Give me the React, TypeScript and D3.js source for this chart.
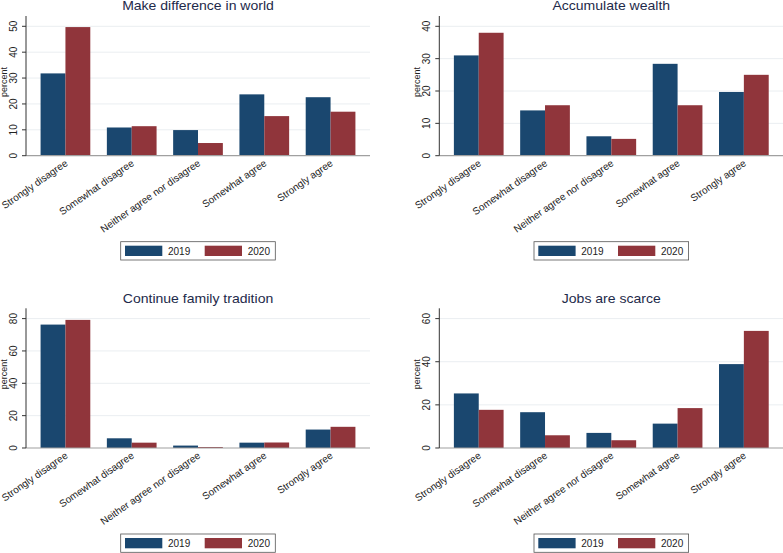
import * as d3 from "d3"
import { useEffect, useRef } from "react"

const categories = [
  "Strongly disagree",
  "Somewhat disagree",
  "Neither agree nor disagree",
  "Somewhat agree",
  "Strongly agree"
]
const years = ["2019", "2020"]

const world2019 = [31.8, 10.9, 9.9, 23.7, 22.6]
const world2020 = [49.7, 11.4, 4.9, 15.3, 17.0]
const wealth2019 = [31.0, 14.0, 6.0, 28.4, 19.7]
const wealth2020 = [38.0, 15.6, 5.2, 15.6, 25.0]
const tradition2019 = [76.3, 6.0, 1.5, 3.3, 11.4]
const tradition2020 = [79.2, 3.3, 0.6, 3.4, 13.1]
const jobs2019 = [25.3, 16.6, 7.0, 11.3, 38.9]
const jobs2020 = [17.7, 5.9, 3.6, 18.5, 54.3]

const worldTicks = [0, 10, 20, 30, 40, 50]
const wealthTicks = [0, 10, 20, 30, 40]
const traditionTicks = [0, 20, 40, 60, 80]
const jobsTicks = [0, 20, 40, 60]

const panels = [
  { title: "Make difference in world", a: world2019, b: world2020, ticks: worldTicks, col: 0, row: 0 },
  { title: "Accumulate wealth", a: wealth2019, b: wealth2020, ticks: wealthTicks, col: 1, row: 0 },
  { title: "Continue family tradition", a: tradition2019, b: tradition2020, ticks: traditionTicks, col: 0, row: 1 },
  { title: "Jobs are scarce", a: jobs2019, b: jobs2020, ticks: jobsTicks, col: 1, row: 1 }
]

const W = 783
const H = 553
const FONT = "'Liberation Sans', Arial, Helvetica, sans-serif"
const NAVY = "#1a476f"
const MAROON = "#90353b"

const App = () => {
  const svgRef = useRef<SVGSVGElement | null>(null)

  useEffect(() => {
    if (!svgRef.current) return
    const root = d3.select(svgRef.current)
    root.selectAll("*").remove()

    const colX = [0, 413.3]
    const rowY = [0, 292.3]
    const left = 26
    const right = 370
    const base = 155.7
    const topTick = 26.3
    const axisTop = 16

    const x = d3
      .scaleBand<string>()
      .domain(categories)
      .range([left, right])
      .paddingInner(0.25)
      .paddingOuter(0.22)

    const xYear = d3
      .scaleBand<string>()
      .domain(years)
      .range([0, x.bandwidth()])

    const color = d3.scaleOrdinal<string>().domain(years).range([NAVY, MAROON])

    panels.forEach(p => {
      const g = root
        .append("g")
        .attr("transform", `translate(${colX[p.col]},${rowY[p.row]})`)

      const y = d3
        .scaleLinear()
        .domain([0, p.ticks[p.ticks.length - 1]])
        .range([base, topTick])

      // gridlines
      g.selectAll(".grid")
        .data(p.ticks.slice(1))
        .enter()
        .append("line")
        .attr("x1", left)
        .attr("x2", right)
        .attr("y1", d => y(d))
        .attr("y2", d => y(d))
        .attr("stroke", "#eaeef1")
        .attr("stroke-width", 1)

      // bars
      const rows = categories.map((c, i) => ({ c, vals: [p.a[i], p.b[i]] }))
      const groups = g
        .selectAll(".grp")
        .data(rows)
        .enter()
        .append("g")
        .attr("transform", d => `translate(${x(d.c)},0)`)

      groups
        .selectAll("rect")
        .data(d => years.map((yr, k) => ({ yr, v: d.vals[k] })))
        .enter()
        .append("rect")
        .attr("x", d => xYear(d.yr) as number)
        .attr("width", xYear.bandwidth())
        .attr("y", d => y(d.v))
        .attr("height", d => base - y(d.v))
        .attr("fill", d => color(d.yr))

      // x baseline
      g.append("line")
        .attr("x1", left)
        .attr("x2", right)
        .attr("y1", base)
        .attr("y2", base)
        .attr("stroke", "#a0a0a0")
        .attr("stroke-width", 1.2)

      // y axis
      g.append("line")
        .attr("x1", left)
        .attr("x2", left)
        .attr("y1", axisTop)
        .attr("y2", base)
        .attr("stroke", "#333")
        .attr("stroke-width", 1)

      g.selectAll(".tick")
        .data(p.ticks)
        .enter()
        .append("line")
        .attr("x1", left - 4)
        .attr("x2", left)
        .attr("y1", d => y(d))
        .attr("y2", d => y(d))
        .attr("stroke", "#333")

      g.selectAll(".ticklab")
        .data(p.ticks)
        .enter()
        .append("text")
        .attr("transform", d => `translate(${left - 9.5},${y(d)}) rotate(-90)`)
        .attr("text-anchor", "middle")
        .style("font-family", FONT)
        .style("font-size", "10px")
        .style("fill", "#222")
        .text(d => d)

      g.append("text")
        .attr("transform", `translate(6.8,82) rotate(-90)`)
        .attr("text-anchor", "middle")
        .style("font-family", FONT)
        .style("font-size", "9px")
        .style("fill", "#222")
        .text("percent")

      // category labels
      g.selectAll(".catlab")
        .data(categories)
        .enter()
        .append("text")
        .attr(
          "transform",
          d => `translate(${(x(d) as number) + x.bandwidth() / 2 + 3},${base + 9}) rotate(-35)`
        )
        .attr("text-anchor", "end")
        .style("font-family", FONT)
        .style("font-size", "10px")
        .style("fill", "#222")
        .text(d => d)

      // title
      const cx = (left + right) / 2
      g.append("text")
        .attr("transform", `translate(${cx},10.4) scale(1.17,1)`)
        .attr("text-anchor", "middle")
        .style("font-family", FONT)
        .style("font-size", "12px")
        .style("fill", "#1e2a4a")
        .text(p.title)

      // legend
      const lg = g.append("g").attr("transform", `translate(${cx - 77.3},241.7)`)
      lg.append("rect")
        .attr("width", 154.6)
        .attr("height", 18.3)
        .attr("fill", "white")
        .attr("stroke", "#555")
        .attr("stroke-width", 0.8)

      const items = lg
        .selectAll(".item")
        .data(years)
        .enter()
        .append("g")
        .attr("transform", (_d, i) => `translate(${4.3 + i * 79.7},4)`)

      items
        .append("rect")
        .attr("width", 37.3)
        .attr("height", 10.3)
        .attr("fill", d => color(d))

      items
        .append("text")
        .attr("x", 43)
        .attr("y", 9)
        .style("font-family", FONT)
        .style("font-size", "10px")
        .style("fill", "#222")
        .text(d => d)
    })
  }, [])

  return (
    <svg
      ref={svgRef}
      width={W}
      height={H}
      style={{ position: "absolute", left: 0, top: 0, background: "white" }}
    />
  )
}

export default App
